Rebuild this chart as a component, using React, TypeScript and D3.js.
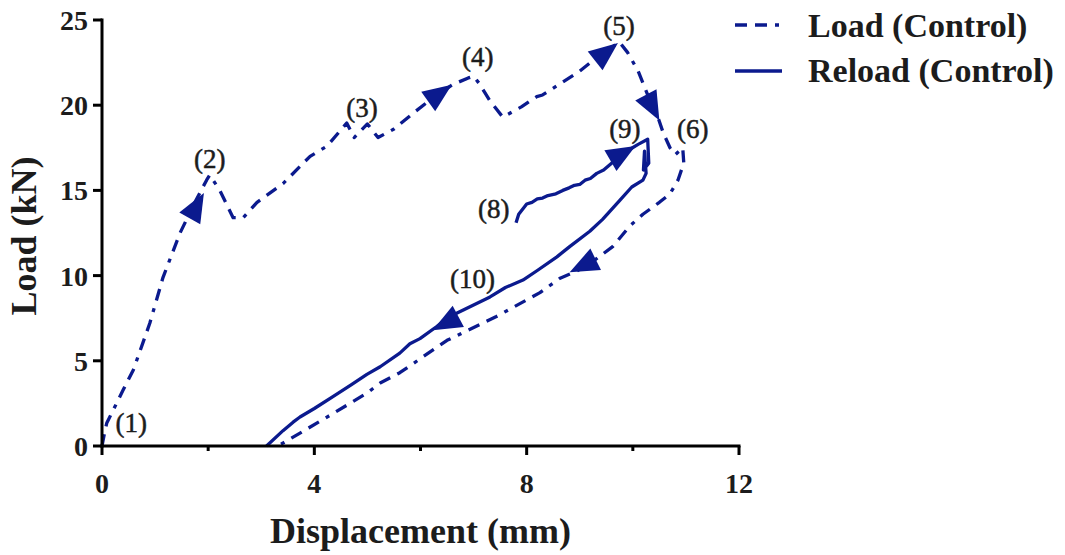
import React from "react";
import * as d3 from "d3";

// Load path (dashed): initial loading, peaks (2)-(5), drop to (6), unloading to zero
const loadX = [0, 0.05, 0.09, 0.21, 0.4, 0.59, 0.9, 1.15, 1.47, 1.75, 1.97, 2.03, 2.22, 2.47, 2.66, 2.92, 3.41, 3.92, 4.24, 4.61, 4.75, 5.0, 5.2, 5.5, 5.85, 6.18, 6.6, 6.9, 7.0, 7.1, 7.3, 7.55, 7.9, 8.19, 8.3, 8.6, 9.0, 9.32, 9.6, 9.75, 9.9, 10.1, 10.32, 10.45, 10.57, 10.7, 10.8, 10.94, 10.96, 10.85, 10.7, 10.5, 10.19, 9.94, 9.62, 9.19, 8.9, 8.63, 8.25, 7.43, 6.5, 5.61, 5.24, 4.99, 4.35, 3.73, 3.41, 3.3];
const loadY = [0, 0.8, 1.35, 2.1, 3.3, 4.46, 7.2, 9.9, 12.5, 14.3, 15.6, 15.9, 15.0, 13.4, 13.4, 14.3, 15.4, 17.0, 17.6, 18.95, 18.1, 18.9, 18.1, 18.6, 19.5, 20.3, 21.2, 21.6, 21.7, 21.3, 20.3, 19.3, 19.9, 20.5, 20.6, 21.2, 22.0, 22.8, 23.4, 23.7, 23.1, 22.0, 20.3, 19.5, 18.4, 17.5, 17.1, 17.5, 16.6, 15.6, 14.8, 14.3, 13.6, 12.9, 11.7, 10.7, 10.2, 9.85, 9.0, 7.6, 6.2, 4.3, 3.7, 3.1, 1.9, 0.76, 0.17, 0];

// Reload path (solid): from (8) up to (9), then back down to zero
const reloadX = [7.8, 7.85, 8.0, 8.1, 8.2, 8.3, 8.4, 8.55, 8.68, 8.8, 8.9, 9.0, 9.1, 9.2, 9.32, 9.45, 9.6, 9.8, 9.94, 10.1, 10.28, 10.3, 10.2, 10.22, 10.25, 10.19, 9.98, 9.75, 9.43, 9.19, 8.81, 8.57, 8.2, 7.93, 7.6, 7.31, 6.69, 6.5, 6.3, 5.99, 5.8, 5.61, 5.24, 4.99, 4.7, 4.35, 4.0, 3.73, 3.6, 3.41, 3.1];
const reloadY = [13.1, 13.6, 14.2, 14.3, 14.5, 14.55, 14.7, 14.8, 15.0, 15.15, 15.3, 15.35, 15.6, 15.7, 16.0, 16.2, 16.6, 17.0, 17.4, 17.7, 18.0, 16.6, 16.2, 17.3, 16.0, 15.6, 15.2, 14.4, 13.3, 12.6, 11.7, 11.1, 10.3, 9.74, 9.3, 8.75, 7.8, 7.5, 7.0, 6.3, 6.0, 5.45, 4.65, 4.2, 3.6, 2.9, 2.2, 1.7, 1.4, 0.9, 0];

// Direction arrows: tip and a point behind it, in data units
const arrowTipX = [1.92, 6.59, 9.72, 10.5, 8.81, 10.05, 6.23];
const arrowTipY = [14.85, 21.2, 23.65, 19.1, 10.2, 17.6, 6.8];
const arrowBackX = [1.66, 6.05, 9.25, 10.28, 9.2, 9.5, 6.65];
const arrowBackY = [13.4, 20.0, 22.5, 20.4, 10.8, 16.6, 7.5];

// Stage labels
const stageText = ["(1)", "(2)", "(3)", "(4)", "(5)", "(6)", "(8)", "(9)", "(10)"];
const stageX = [0.55, 2.03, 4.9, 7.08, 9.74, 11.13, 7.38, 9.85, 6.98];
const stageY = [0.82, 16.3, 19.3, 22.3, 24.1, 18.1, 13.4, 18.1, 9.3];

const xMajorTicks = [0, 4, 8, 12];
const xMinorTicks = [2, 6, 10];
const yTicks = [0, 5, 10, 15, 20, 25];

const legendLabels = ["Load (Control)", "Reload (Control)"];

const BLUE = "#0b1a8e";
const INK = "#1c1c1c";
const FONT = "'Liberation Serif', 'Times New Roman', serif";
const LOAD_DASH = "12,8,12,8,4,8";

export default function App() {
  const W = 1065;
  const H = 555;
  const x = d3.scaleLinear().domain([0, 12]).range([102, 739]);
  const y = d3.scaleLinear().domain([0, 25]).range([446, 20]);

  const line = d3
    .line<[number, number]>()
    .x((d) => x(d[0]))
    .y((d) => y(d[1]));

  const loadPts = loadX.map((v, i) => [v, loadY[i]] as [number, number]);
  const reloadPts = reloadX.map((v, i) => [v, reloadY[i]] as [number, number]);

  const arrows = arrowTipX.map((tx, i) => {
    const px = x(tx);
    const py = y(arrowTipY[i]);
    const bx = x(arrowBackX[i]);
    const by = y(arrowBackY[i]);
    const ang = Math.atan2(py - by, px - bx);
    const len = 29;
    const half = 12;
    const cx = px - len * Math.cos(ang);
    const cy = py - len * Math.sin(ang);
    const nx = -Math.sin(ang);
    const ny = Math.cos(ang);
    const pts = [
      [px, py],
      [cx + nx * half, cy + ny * half],
      [cx - nx * half, cy - ny * half],
    ];
    return pts.map((p) => p.join(",")).join(" ");
  });

  const x0 = x(0);
  const y0 = y(0);

  return (
    <svg
      width={W}
      height={H}
      style={{ position: "absolute", left: 0, top: 0, background: "#fff" }}
    >
      {/* curves */}
      <path
        d={line(loadPts) || ""}
        fill="none"
        stroke={BLUE}
        strokeWidth={3.3}
        strokeDasharray={LOAD_DASH}
        strokeLinejoin="round"
      />
      <path
        d={line(reloadPts) || ""}
        fill="none"
        stroke={BLUE}
        strokeWidth={3.3}
        strokeLinejoin="round"
      />
      {arrows.map((p, i) => (
        <polygon key={i} points={p} fill={BLUE} />
      ))}

      {/* axes */}
      <line x1={x0} x2={x(12)} y1={y0} y2={y0} stroke="#000" strokeWidth={3} strokeLinecap="square" />
      <line x1={x0} x2={x0} y1={y0} y2={y(25)} stroke="#000" strokeWidth={3} strokeLinecap="square" />
      {xMajorTicks.map((t) => (
        <line key={"xm" + t} x1={x(t)} x2={x(t)} y1={y0} y2={y0 + 9} stroke="#000" strokeWidth={3} />
      ))}
      {xMinorTicks.map((t) => (
        <line key={"xn" + t} x1={x(t)} x2={x(t)} y1={y0} y2={y0 + 5} stroke="#000" strokeWidth={3} />
      ))}
      {yTicks.map((t) => (
        <line key={"y" + t} x1={x0 - 9} x2={x0} y1={y(t)} y2={y(t)} stroke="#000" strokeWidth={3} />
      ))}
      {xMajorTicks.map((t) => (
        <text key={"xl" + t} x={x(t)} y={y0 + 47} textAnchor="middle" fontFamily={FONT} fontWeight="bold" fontSize={28} fill={INK}>
          {t}
        </text>
      ))}
      {yTicks.map((t) => (
        <text key={"yl" + t} x={x0 - 14} y={y(t) + 10} textAnchor="end" fontFamily={FONT} fontWeight="bold" fontSize={28} fill={INK}>
          {t}
        </text>
      ))}
      <text x={(x0 + x(12)) / 2} y={543} textAnchor="middle" fontFamily={FONT} fontWeight="bold" fontSize={36} fill={INK}>
        Displacement (mm)
      </text>
      <text
        transform={`translate(36,${(y(0) + y(25)) / 2 + 3}) rotate(-90)`}
        textAnchor="middle"
        fontFamily={FONT}
        fontWeight="bold"
        fontSize={36}
        fill={INK}
      >
        Load (kN)
      </text>

      {/* stage labels */}
      {stageText.map((s, i) => (
        <text
          key={s}
          x={x(stageX[i])}
          y={y(stageY[i])}
          textAnchor="middle"
          fontFamily={FONT}
          fontSize={27}
          fill={INK}
          stroke={INK}
          strokeWidth={0.5}
        >
          {s}
        </text>
      ))}

      {/* legend */}
      <line x1={735} x2={782} y1={25} y2={25} stroke={BLUE} strokeWidth={3.3} strokeDasharray={LOAD_DASH} />
      <line x1={735} x2={782} y1={71} y2={71} stroke={BLUE} strokeWidth={3.3} />
      {legendLabels.map((l, i) => (
        <text key={l} x={808} y={37 + i * 45} fontFamily={FONT} fontWeight="bold" fontSize={34} fill={INK}>
          {l}
        </text>
      ))}
    </svg>
  );
}
